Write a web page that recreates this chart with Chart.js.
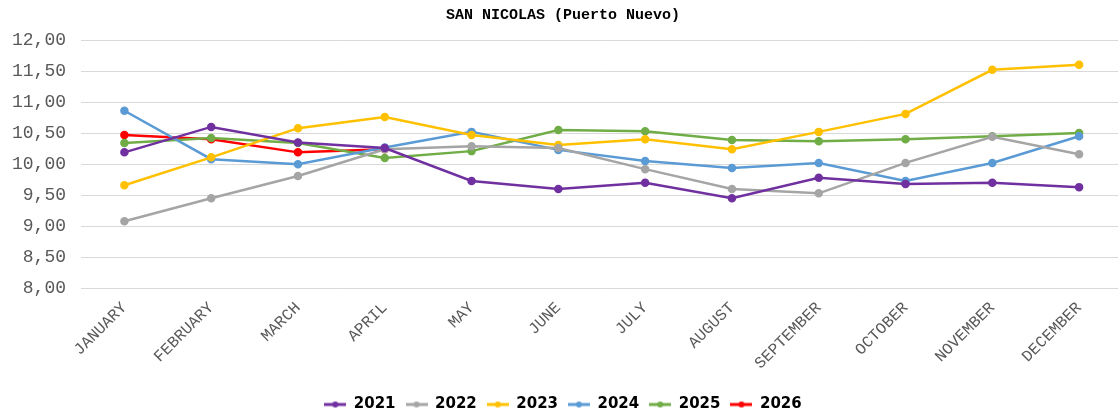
<!DOCTYPE html>
<html>
<head>
<meta charset="utf-8">
<script src="https://cdn.jsdelivr.net/npm/chart.js@4.4.1/dist/chart.umd.min.js"></script>
<style>
  html, body { margin: 0; padding: 0; background: #fff; overflow: hidden; }
  #wrap { width: 1132px; height: 416px; margin-left: -3px; }
</style>
</head>
<body>
<div id="wrap"><canvas id="lineChart"></canvas></div>
<script>
var months = ["JANUARY", "FEBRUARY", "MARCH", "APRIL", "MAY", "JUNE", "JULY",
    "AUGUST", "SEPTEMBER", "OCTOBER", "NOVEMBER", "DECEMBER"];
var years = ["2021", "2022", "2023", "2024", "2025", "2026"];
var v2021 = [10.19, 10.60, 10.35, 10.26, 9.73, 9.60, 9.70, 9.45, 9.78, 9.68, 9.70, 9.63];
var v2022 = [9.08, 9.45, 9.81, 10.24, 10.29, 10.26, 9.92, 9.60, 9.53, 10.02, 10.44, 10.16];
var v2023 = [9.66, 10.11, 10.58, 10.76, 10.47, 10.31, 10.40, 10.24, 10.52, 10.81, 11.52, 11.60];
var v2024 = [10.86, 10.08, 10.00, 10.27, 10.52, 10.23, 10.05, 9.94, 10.02, 9.73, 10.02, 10.45];
var v2025 = [10.34, 10.42, 10.34, 10.10, 10.21, 10.55, 10.53, 10.39, 10.37, 10.40, 10.45, 10.50];
var v2026 = [10.47, 10.40, 10.19, 10.24];
var colors = ["#7030A0", "#A5A5A5", "#FFC000", "#5B9BD5", "#70AD47", "#FF0000"];

var series = [v2021, v2022, v2023, v2024, v2025, v2026];

// little "line with a dot" marker for the legend
function legendMark(color) {
    var c = document.createElement('canvas');
    c.width = 22; c.height = 8;
    var g = c.getContext('2d');
    g.strokeStyle = color;
    g.lineWidth = 3;
    g.beginPath(); g.moveTo(0, 4); g.lineTo(22, 4); g.stroke();
    g.fillStyle = color;
    g.beginPath(); g.arc(11, 4, 3, 0, Math.PI * 2); g.fill();
    return c;
}

var mono = '"Liberation Mono", "Courier New", monospace';

var ctx = document.getElementById("lineChart").getContext('2d');
var myChart = new Chart(ctx, {
    type: 'line',
    data: {
        labels: months,
        datasets: years.map(function (y, i) {
            return {
                label: y,
                data: series[i],
                borderColor: colors[i],
                backgroundColor: colors[i],
                borderWidth: 2.5,
                pointRadius: 3,
                pointHoverRadius: 4,
                tension: 0
            };
        })
    },
    options: {
        responsive: true,
        maintainAspectRatio: false,
        animation: false,
        layout: { padding: { left: 0, right: 0, top: 0, bottom: -6 } },
        plugins: {
            title: {
                display: true,
                text: 'SAN NICOLAS (Puerto Nuevo)',
                color: '#000',
                font: { family: mono, size: 15, weight: 'bold' },
                padding: { top: 6, bottom: 16 }
            },
            legend: {
                position: 'bottom',
                labels: {
                    usePointStyle: true,
                    pointStyleWidth: 22,
                    color: '#595959',
                    font: { family: '"DejaVu Sans", Verdana, sans-serif', size: 15, weight: 'bold' },
                    padding: 10,
                    generateLabels: function (chart) {
                        return chart.data.datasets.map(function (ds, i) {
                            return {
                                text: ds.label,
                                pointStyle: legendMark(ds.borderColor),
                                fillStyle: ds.borderColor,
                                strokeStyle: ds.borderColor,
                                lineWidth: 0,
                                hidden: !chart.isDatasetVisible(i),
                                datasetIndex: i
                            };
                        });
                    }
                }
            },
            tooltip: { enabled: true }
        },
        scales: {
            x: {
                offset: true,
                grid: { display: false },
                border: { display: false },
                afterFit: function (scale) { scale.height += 12; },
                ticks: {
                    color: '#595959',
                    maxRotation: 45,
                    minRotation: 45,
                    padding: 2,
                    font: { family: mono, size: 16 }
                }
            },
            y: {
                min: 8,
                max: 12,
                border: { display: false },
                grid: { color: '#D9D9D9', drawTicks: false },
                ticks: {
                    stepSize: 0.5,
                    padding: 15,
                    color: '#595959',
                    font: { family: mono, size: 18 },
                    callback: function (v) { return v.toFixed(2).replace('.', ','); }
                }
            }
        }
    }
});
</script>
</body>
</html>
